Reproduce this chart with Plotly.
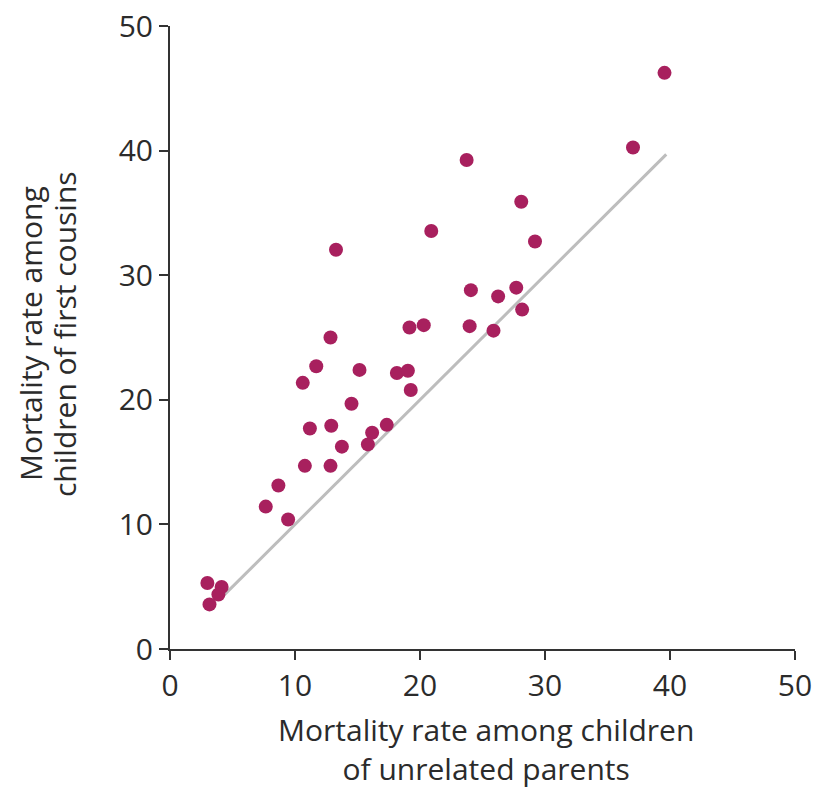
import plotly.graph_objects as go

# Mortality rates (per 1000)
unrelated = [39.56, 37.04, 23.73, 28.10, 20.90, 29.20, 13.28, 24.07, 26.25, 27.70,
             28.17, 19.16, 20.30, 23.97, 25.88, 12.84, 11.70, 15.16, 18.15, 19.03,
             10.62, 19.26, 14.52, 11.19, 12.90, 17.34, 16.17, 13.75, 15.83, 10.79,
             12.84, 8.67, 7.66, 9.45, 2.99, 4.13, 3.87, 3.16]
first_cousins = [46.24, 40.25, 39.25, 35.90, 33.55, 32.70, 32.04, 28.80, 28.30, 29.00,
                 27.24, 25.80, 25.99, 25.91, 25.55, 25.00, 22.69, 22.40, 22.15, 22.33,
                 21.36, 20.79, 19.68, 17.70, 17.92, 17.99, 17.35, 16.24, 16.42, 14.70,
                 14.70, 13.12, 11.43, 10.39, 5.30, 4.98, 4.37, 3.58]

# Equality reference line (y = x)
ref_x = [4.2, 39.7]
ref_y = [4.2, 39.7]

ticks = [0, 10, 20, 30, 40, 50]

x_title = "Mortality rate among children<br>of unrelated parents"
y_title_lines = ["Mortality rate among", "children of first cousins"]

font_family = "Open Sans"
text_color = "#2b2b2b"

fig = go.Figure()
fig.add_trace(go.Scatter(x=ref_x, y=ref_y, mode="lines",
                         line=dict(color="#bdbdbd", width=3), hoverinfo="skip",
                         showlegend=False))
fig.add_trace(go.Scatter(x=unrelated, y=first_cousins, mode="markers",
                         marker=dict(color="#a8205e", size=14, line=dict(width=0)),
                         showlegend=False, cliponaxis=False))

axis_common = dict(range=[0, 50], tickvals=ticks, showline=True, linecolor="#333333",
                   linewidth=2, ticks="outside", ticklen=9, tickwidth=2,
                   tickcolor="#333333", showgrid=False, zeroline=False,
                   automargin=False,
                   tickfont=dict(family=font_family, size=30, color=text_color))

L, R, T, B = 170, 21, 26, 141
W, H = 816, 790
pw, ph = W - L - R, H - T - B

annotations = []
# x-axis title (pixel position converted to paper coords)
annotations.append(dict(text=x_title, xref="paper", yref="paper",
                        x=(486 - L) / pw, y=(H - B - 749) / ph,
                        xanchor="center", yanchor="middle", showarrow=False,
                        borderpad=0,
                        font=dict(family=font_family, size=30, color=text_color)))
# y-axis title lines (rotated)
for txt, xpx in zip(y_title_lines, [30, 64]):
    annotations.append(dict(text=txt, xref="paper", yref="paper",
                            x=(xpx - L) / pw, y=(H - B - 334) / ph,
                            xanchor="center", yanchor="middle", textangle=-90,
                            showarrow=False, borderpad=0,
                            font=dict(family=font_family, size=30, color=text_color)))

fig.update_layout(
    width=W, height=H,
    margin=dict(l=L, r=R, t=T, b=B),
    plot_bgcolor="white", paper_bgcolor="white",
    xaxis=dict(**axis_common),
    yaxis=dict(**axis_common),
    annotations=annotations,
)

fig.write_html("out.html", config={"displayModeBar": False},
               post_script="document.body.style.margin='0';document.body.style.overflow='hidden';")
